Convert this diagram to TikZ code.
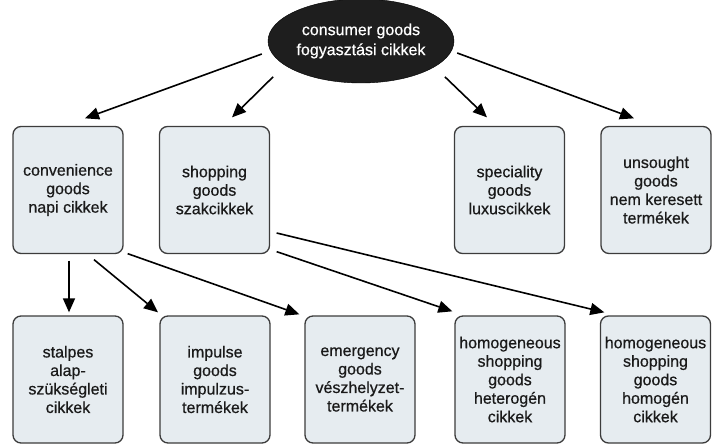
\documentclass[tikz,border=0pt]{standalone}
\usepackage{fontspec}
\setmainfont{Liberation Sans}
\newfontfamily\labelfont[FakeBold=0.6]{Liberation Sans}
\usetikzlibrary{shapes.geometric,arrows.meta}
\definecolor{boxfill}{HTML}{E6ECF0}
\definecolor{boxline}{HTML}{3C3C3C}
\definecolor{rootfill}{HTML}{1E1E1E}
\definecolor{labelink}{HTML}{1A1A1A}
\tikzset{
  goodsbox/.style={draw=boxline, line width=1.3pt, fill=boxfill, rounded corners=8pt,
    minimum width=110pt, minimum height=127pt, inner sep=1pt, align=center, text=labelink,
    font=\labelfont\fontsize{16}{18.5}\selectfont},
  rootnode/.style={ellipse, draw=black, fill=rootfill, text=white, minimum width=186pt,
    minimum height=84pt, inner sep=0pt, align=center,
    font=\labelfont\fontsize{16}{20}\selectfont},
  arr/.style={line width=1.6pt, -{Triangle[length=14pt,width=12pt]}}
}
\begin{document}
\begin{tikzpicture}[x=1pt,y=1pt]
\useasboundingbox (0,0) rectangle (713,-444);
% root
\node[rootnode] (cg) at (361,-41) {consumer goods\\fogyasztási cikkek};
% first level
\node[goodsbox] (conv) at (68,-190) {convenience\\goods\\napi cikkek};
\node[goodsbox] (shop) at (214.5,-190) {shopping\\goods\\szakcikkek};
\node[goodsbox] (spec) at (509.5,-190) {speciality\\goods\\luxuscikkek};
\node[goodsbox] (unso) at (656,-190) {unsought\\goods\\nem keresett\\termékek};
% second level
\node[goodsbox] (stap) at (68,-379.5) {stalpes\\alap-\\szükségleti\\cikkek};
\node[goodsbox] (impu) at (215,-379.5) {impulse\\goods\\impulzus-\\termékek};
\node[goodsbox] (emer) at (360,-379.5) {emergency\\goods\\vészhelyzet-\\termékek};
\node[goodsbox] (hete) at (510,-379.5) {homogeneous\\shopping\\goods\\heterogén\\cikkek};
\node[goodsbox] (homo) at (655.5,-379.5) {homogeneous\\shopping\\goods\\homogén\\cikkek};
% connectors from the root
\draw[arr] ([shift={(-6pt,-13pt)}]cg.west) -- ([shift={(17pt,7.5pt)}]conv.north);
\draw[arr] ([shift={(-22pt,-6pt)}]cg.south west) -- ([shift={(17.5pt,8.5pt)}]shop.north);
\draw[arr] ([shift={(18pt,-6pt)}]cg.south east) -- ([shift={(-22.5pt,8.5pt)}]spec.north);
\draw[arr] ([shift={(3pt,-12pt)}]cg.east) -- ([shift={(-22pt,7.5pt)}]unso.north);
% connectors from convenience goods
\draw[arr] ([shift={(1pt,-6.5pt)}]conv.south) -- ([shift={(1pt,3pt)}]stap.north);
\draw[arr] ([shift={(26pt,-5.5pt)}]conv.south) -- ([shift={(-57pt,3pt)}]impu.north);
\draw[arr] ([shift={(4pt,0.5pt)}]conv.south east) -- ([shift={(-5pt,1pt)}]emer.north west);
% connectors from shopping goods
\draw[arr] ([shift={(6.5pt,2.5pt)}]shop.south east) -- ([shift={(-2pt,4pt)}]hete.north west);
\draw[arr] ([shift={(6.5pt,-43pt)}]shop.east) -- ([shift={(4.5pt,3pt)}]homo.north west);
\end{tikzpicture}
\end{document}
